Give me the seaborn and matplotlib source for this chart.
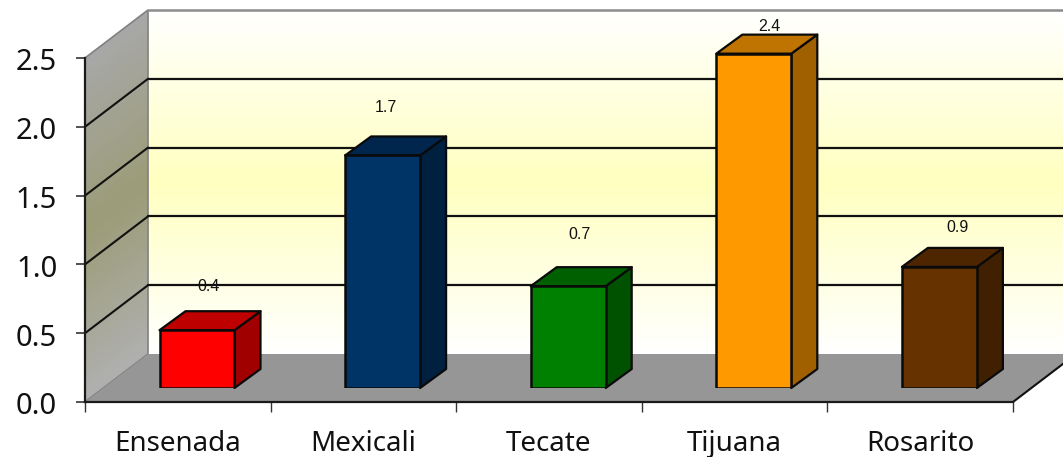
import numpy as np
import matplotlib
matplotlib.use("Agg")
import matplotlib.pyplot as plt
import seaborn as sns
from matplotlib.colors import LinearSegmentedColormap, to_rgb
from matplotlib.patches import Polygon
from matplotlib.transforms import Affine2D

# data
cities = ['Ensenada', 'Mexicali', 'Tecate', 'Tijuana', 'Rosarito']
values = [0.42, 1.69, 0.74, 2.43, 0.88]
value_labels = ['0.4', '1.7', '0.7', '2.4', '0.9']
bar_colors = ['#FF0000', '#003366', '#008000', '#FF9900', '#663300']
y_ticks = [0.0, 0.5, 1.0, 1.5, 2.0, 2.5]

# label offsets in pixels from the top of the front face centre
label_dx = [12, 3, 11, 16, 18]
label_dy = [44, 48, 52, 27, 39]

W, H = 1063, 457
LEFT, RIGHT, BOTTOM, TOP = 85, 1013, 402, 58
WALL_DX, WALL_DY = 63, 48        # front frame -> back wall
BAR_DX, BAR_DY = 19.2, 14        # front frame -> bar front face
DEPTH_DX, DEPTH_DY = 26, 19      # bar depth

sns.set_style("white")
plt.rcParams['font.family'] = ['Noto Sans', 'DejaVu Sans']

fig = plt.figure(figsize=(W / 100, H / 100), dpi=100)
fig.patch.set_facecolor('white')


def axes_px(x0, x1, y_bottom, y_top, zorder):
    a = fig.add_axes([x0 / W, 1 - y_bottom / H, (x1 - x0) / W, (y_bottom - y_top) / H], zorder=zorder)
    a.patch.set_alpha(0)
    return a


# ------------------------------
# walls and floor, pixel coords
# ------------------------------
bg = fig.add_axes([0, 0, 1, 1], zorder=0)
bg.set_xlim(0, W)
bg.set_ylim(H, 0)
bg.axis('off')

back_top = TOP - WALL_DY
back_bot = BOTTOM - WALL_DY
back_cmap = LinearSegmentedColormap.from_list('back', ['#FFFFFF', '#FFFFC0', '#FFFFFF'])
grad = np.linspace(0, 1, 256).reshape(-1, 1)
bg.imshow(grad, cmap=back_cmap, extent=[LEFT + WALL_DX, W, back_bot, back_top], aspect='auto', zorder=1)

side_cmap = LinearSegmentedColormap.from_list('side', ['#A8A8A8', '#9C9C78', '#B0B0B0'])
xx, yy = np.meshgrid(np.linspace(LEFT, LEFT + WALL_DX, 64), np.linspace(back_top, BOTTOM, 256))
shear = (yy + (xx - LEFT) * WALL_DY / WALL_DX - TOP) / (BOTTOM - TOP)
side_img = bg.imshow(shear, cmap=side_cmap, vmin=0, vmax=1, origin='upper',
                     extent=[LEFT, LEFT + WALL_DX, BOTTOM, back_top], aspect='auto', zorder=1)
side_poly = Polygon([(LEFT, TOP), (LEFT + WALL_DX, back_top), (LEFT + WALL_DX, back_bot), (LEFT, BOTTOM)],
                    closed=True, fc='none', ec='#808080', lw=1.2, zorder=2)
bg.add_patch(side_poly)
side_img.set_clip_path(side_poly)

bg.add_patch(Polygon([(LEFT, BOTTOM), (RIGHT, BOTTOM), (RIGHT + WALL_DX, back_bot), (LEFT + WALL_DX, back_bot)],
                     closed=True, fc='#969696', ec='none', zorder=2))
bg.plot([LEFT + WALL_DX, W], [back_top, back_top], color='#8C8C8C', lw=1.8, zorder=3)
bg.plot([RIGHT, RIGHT + WALL_DX], [BOTTOM, back_bot], color='#111111', lw=1.5, zorder=3)
bg.set_xlim(0, W)
bg.set_ylim(H, 0)

# ------------------------------
# front frame: ticks and labels
# ------------------------------
ax = axes_px(LEFT, RIGHT, BOTTOM, TOP, 1)
ax.set_xlim(-0.5, 4.5)
ax.set_ylim(0, 2.5)
for s in ['top', 'right']:
    ax.spines[s].set_visible(False)
for s in ['left', 'bottom']:
    ax.spines[s].set_color('#1A1A1A')
    ax.spines[s].set_linewidth(1.6)
ax.set_yticks(y_ticks)
ax.set_yticklabels([f'{t:.1f}' for t in y_ticks], fontsize=21, color='#111111')
ax.set_xticks(np.arange(6) - 0.5)
ax.set_xticklabels([])
ax.set_xticks(np.arange(5), minor=True)
ax.set_xticklabels(cities, minor=True, fontsize=20, color='#111111')
ax.tick_params(axis='y', which='major', left=True, length=6.5, width=1.1, color='#222222', pad=13.5)
ax.tick_params(axis='x', which='major', bottom=True, length=7, width=1.0, color='#333333')
ax.tick_params(axis='x', which='minor', bottom=False, length=0, pad=20)
for lab in ax.get_yticklabels():
    lab.set_transform(lab.get_transform() + Affine2D().translate(0, -1.5))

# gridlines on back and side walls
wall_shift = Affine2D().translate(WALL_DX, WALL_DY)
for t in y_ticks[1:-1]:
    ax.plot([-0.5, 5.2], [t, t], color='#111111', lw=1.6, clip_on=False,
            transform=ax.transData + wall_shift, zorder=1)
    x0, y0 = ax.transData.transform((-0.5, t))
    ax.plot([x0, x0 + WALL_DX], [y0, y0 + WALL_DY], color='#111111', lw=1.5, clip_on=False,
            transform=None, zorder=1)

# ------------------------------
# bars
# ------------------------------
ax_bars = axes_px(LEFT + BAR_DX, RIGHT + BAR_DX, BOTTOM - BAR_DY, TOP - BAR_DY, 2)
sns.barplot(x=cities, y=values, hue=cities, palette=bar_colors, saturation=1, width=0.404,
            edgecolor='#0A0A0A', linewidth=1.8, legend=False, ax=ax_bars, zorder=3)
ax_bars.set_xlim(-0.5, 4.5)
ax_bars.set_ylim(0, 2.5)
ax_bars.axis('off')

depth = Affine2D().translate(DEPTH_DX, DEPTH_DY)
for patch, col, txt, dx, dy in zip(ax_bars.patches, bar_colors, value_labels, label_dx, label_dy):
    x0, x1 = patch.get_x(), patch.get_x() + patch.get_width()
    h = patch.get_height()
    rgb = np.array(to_rgb(col))
    pts_side = ax_bars.transData.transform([(x1, 0), (x1, h)])
    pts_top = ax_bars.transData.transform([(x0, h), (x1, h)])
    side = [pts_side[0], pts_side[1], depth.transform(pts_side[1]), depth.transform(pts_side[0])]
    top = [pts_top[0], pts_top[1], depth.transform(pts_top[1]), depth.transform(pts_top[0])]
    ax_bars.add_patch(Polygon(side, closed=True, fc=rgb * 0.63, ec='#0A0A0A', lw=1.6, joinstyle='round',
                              transform=None, zorder=2, clip_on=False))
    ax_bars.add_patch(Polygon(top, closed=True, fc=rgb * 0.75, ec='#0A0A0A', lw=1.6, joinstyle='round',
                              transform=None, zorder=2, clip_on=False))
    ax_bars.annotate(txt, xy=((x0 + x1) / 2, h), xytext=(dx, dy), textcoords='offset pixels',
                     ha='center', va='center', fontsize=11.5, family='Liberation Sans',
                     color='#111111', zorder=6, annotation_clip=False)

fig.savefig('out.png', dpi=100)
